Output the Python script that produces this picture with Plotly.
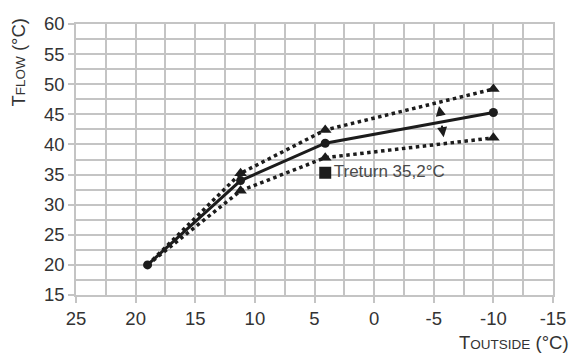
import plotly.graph_objects as go

# Data
t_outside = [19.0, 11.2, 4.1, -10.0]
t_flow = [20.0, 34.0, 40.2, 45.3]
t_flow_upper = [20.0, 35.2, 42.4, 49.2]
t_flow_lower = [20.0, 32.3, 37.8, 41.1]
return_point_x = [4.1]
return_point_y = [35.3]
return_label = ["Treturn 35,2°C"]

x_ticks = [25, 20, 15, 10, 5, 0, -5, -10, -15]
y_ticks = [15, 20, 25, 30, 35, 40, 45, 50, 55, 60]

FONT = "Liberation Sans"
TXT = "#333333"
GRID = "#c4c4c4"
INK = "#1c1c1c"

fig = go.Figure()

for ys in (t_flow_upper, t_flow_lower):
    fig.add_trace(go.Scatter(
        x=t_outside, y=ys, mode="lines",
        line=dict(color=INK, width=3.5, dash="dot"),
        hoverinfo="skip", showlegend=False))
    fig.add_trace(go.Scatter(
        x=t_outside[1:], y=ys[1:], mode="markers",
        marker=dict(symbol="triangle-up", size=11, color=INK),
        showlegend=False))

fig.add_trace(go.Scatter(
    x=t_outside, y=t_flow, mode="lines+markers",
    line=dict(color=INK, width=3),
    marker=dict(symbol="circle", size=9, color=INK),
    showlegend=False))

fig.add_trace(go.Scatter(
    x=return_point_x, y=return_point_y, mode="markers+text",
    marker=dict(symbol="square", size=12, color=INK),
    text=[s for s in return_label], textposition="middle right",
    textfont=dict(family=FONT, size=17, color="#4a4a4a"),
    showlegend=False))

axis_common = dict(
    showgrid=True, gridcolor=GRID, gridwidth=1.5,
    showline=True, linecolor=GRID, linewidth=1.5, mirror=True,
    ticks="outside", ticklen=6, tickcolor=GRID, tickwidth=1.5,
    tickfont=dict(family=FONT, size=18.5, color=TXT),
    zeroline=False,
)

fig.update_xaxes(
    range=[25, -15], tickvals=x_ticks, ticktext=[str(v) for v in x_ticks],
    minor=dict(dtick=2.5, showgrid=True, gridcolor=GRID, gridwidth=1.5, ticks=""),
    **axis_common)
fig.update_yaxes(
    range=[15, 60], tickvals=y_ticks, ticktext=[str(v) for v in y_ticks],
    minor=dict(dtick=2.5, showgrid=True, gridcolor=GRID, gridwidth=1.5, ticks=""),
    **axis_common)

# variation arrows
fig.add_annotation(x=-5.44, y=46.4, xref="x", yref="y", text="", showarrow=True,
                   ax=2, ay=11, arrowhead=2, arrowsize=1, arrowwidth=2, arrowcolor=INK)
fig.add_annotation(x=-5.83, y=41.2, xref="x", yref="y", text="", showarrow=True,
                   ax=-2, ay=-13, arrowhead=2, arrowsize=1, arrowwidth=2, arrowcolor=INK)

# axis titles
fig.add_annotation(
    text='T<span style="font-size:13.5px">FLOW</span> (°C)',
    xref="paper", yref="paper", x=0, y=1, xanchor="center", yanchor="top",
    xshift=-58, yshift=8, textangle=-90, showarrow=False,
    font=dict(family=FONT, size=18.5, color=TXT))
fig.add_annotation(
    text='T<span style="font-size:13.5px">OUTSIDE</span> (°C)',
    xref="paper", yref="paper", x=1, y=0, xanchor="right", yanchor="middle",
    xshift=18, yshift=-47, showarrow=False,
    font=dict(family=FONT, size=18.5, color=TXT))

fig.update_layout(
    width=578, height=360,
    margin=dict(l=76, r=18, t=24, b=65),
    plot_bgcolor="white", paper_bgcolor="white",
    showlegend=False,
)

fig.write_html("out.html")
